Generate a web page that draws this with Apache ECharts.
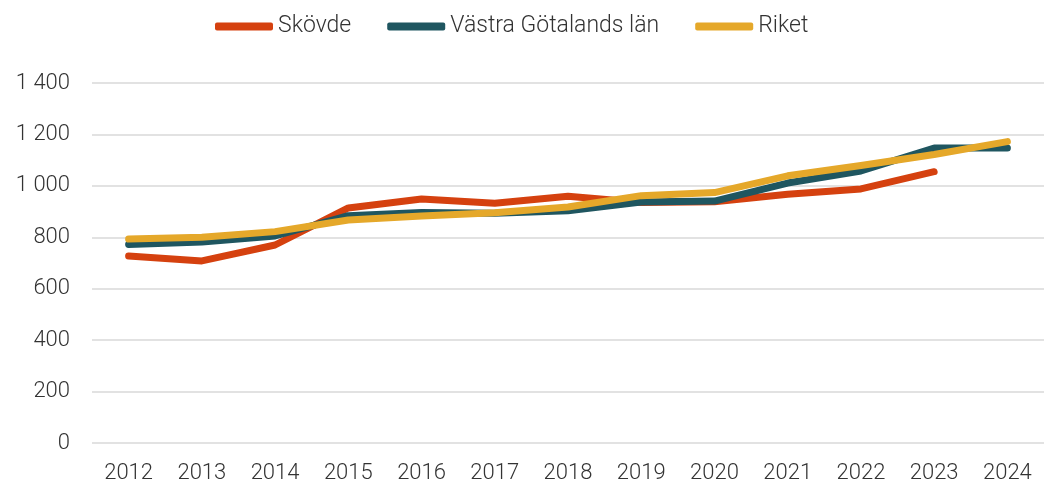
<!DOCTYPE html>
<html><head><meta charset="utf-8">
<script src="https://cdn.jsdelivr.net/npm/echarts@6/dist/echarts.min.js"></script>
<style>html,body{margin:0;padding:0;background:#fff}#c{width:1044px;height:484px}</style>
</head><body><div id="c"></div>
<script>
const years = ['2012','2013','2014','2015','2016','2017','2018','2019','2020','2021','2022','2023','2024'];
const skovde = [727, 708, 770, 914, 949, 932, 960, 935, 938, 967, 988, 1055, null];
const vastra = [772, 782, 805, 884, 896, 893, 903, 937, 941, 1011, 1058, 1147, 1147];
const riket  = [793, 800, 822, 867, 883, 895, 918, 962, 974, 1039, 1079, 1122, 1172];
const seriesNames = ['Skövde', 'Västra Götalands län', 'Riket'];
const colors = ['#D5410F', '#1F5660', '#E5A82A'];

const font = "'Roboto', sans-serif";
const chart = echarts.init(document.getElementById('c'), null, {renderer: 'canvas'});
const mk = (name, data, color) => ({
  name, type: 'line', data, symbol: 'none', connectNulls: false,
  lineStyle: {width: 7, color, cap: 'round', join: 'round'},
  itemStyle: {color}
});
chart.setOption({
  animation: false,
  color: colors,
  legend: {
    top: 10, left: 210, itemGap: 36, itemWidth: 58, itemHeight: 8,
    icon: 'roundRect',
    textStyle: {fontFamily: font, fontSize: 23, color: '#333333', fontWeight: 300},
    data: seriesNames
  },
  grid: {left: 92, right: -11, top: 83, bottom: 41},
  xAxis: {
    type: 'category', data: years, boundaryGap: true,
    axisLine: {show: false}, axisTick: {show: false},
    axisLabel: {fontFamily: font, fontSize: 22, color: '#333333', fontWeight: 300, margin: 19}
  },
  yAxis: {
    type: 'value', min: 0, max: 1400, interval: 200,
    axisLine: {show: false}, axisTick: {show: false},
    splitLine: {lineStyle: {color: '#d9d9d9', width: 1.5}},
    axisLabel: {fontFamily: font, fontSize: 22, color: '#333333', fontWeight: 300, margin: 22,
      formatter: v => String(v).replace(/\B(?=(\d{3})+(?!\d))/g, ' ')}
  },
  series: [mk(seriesNames[0], skovde, colors[0]), mk(seriesNames[1], vastra, colors[1]), mk(seriesNames[2], riket, colors[2])]
});
</script></body></html>
